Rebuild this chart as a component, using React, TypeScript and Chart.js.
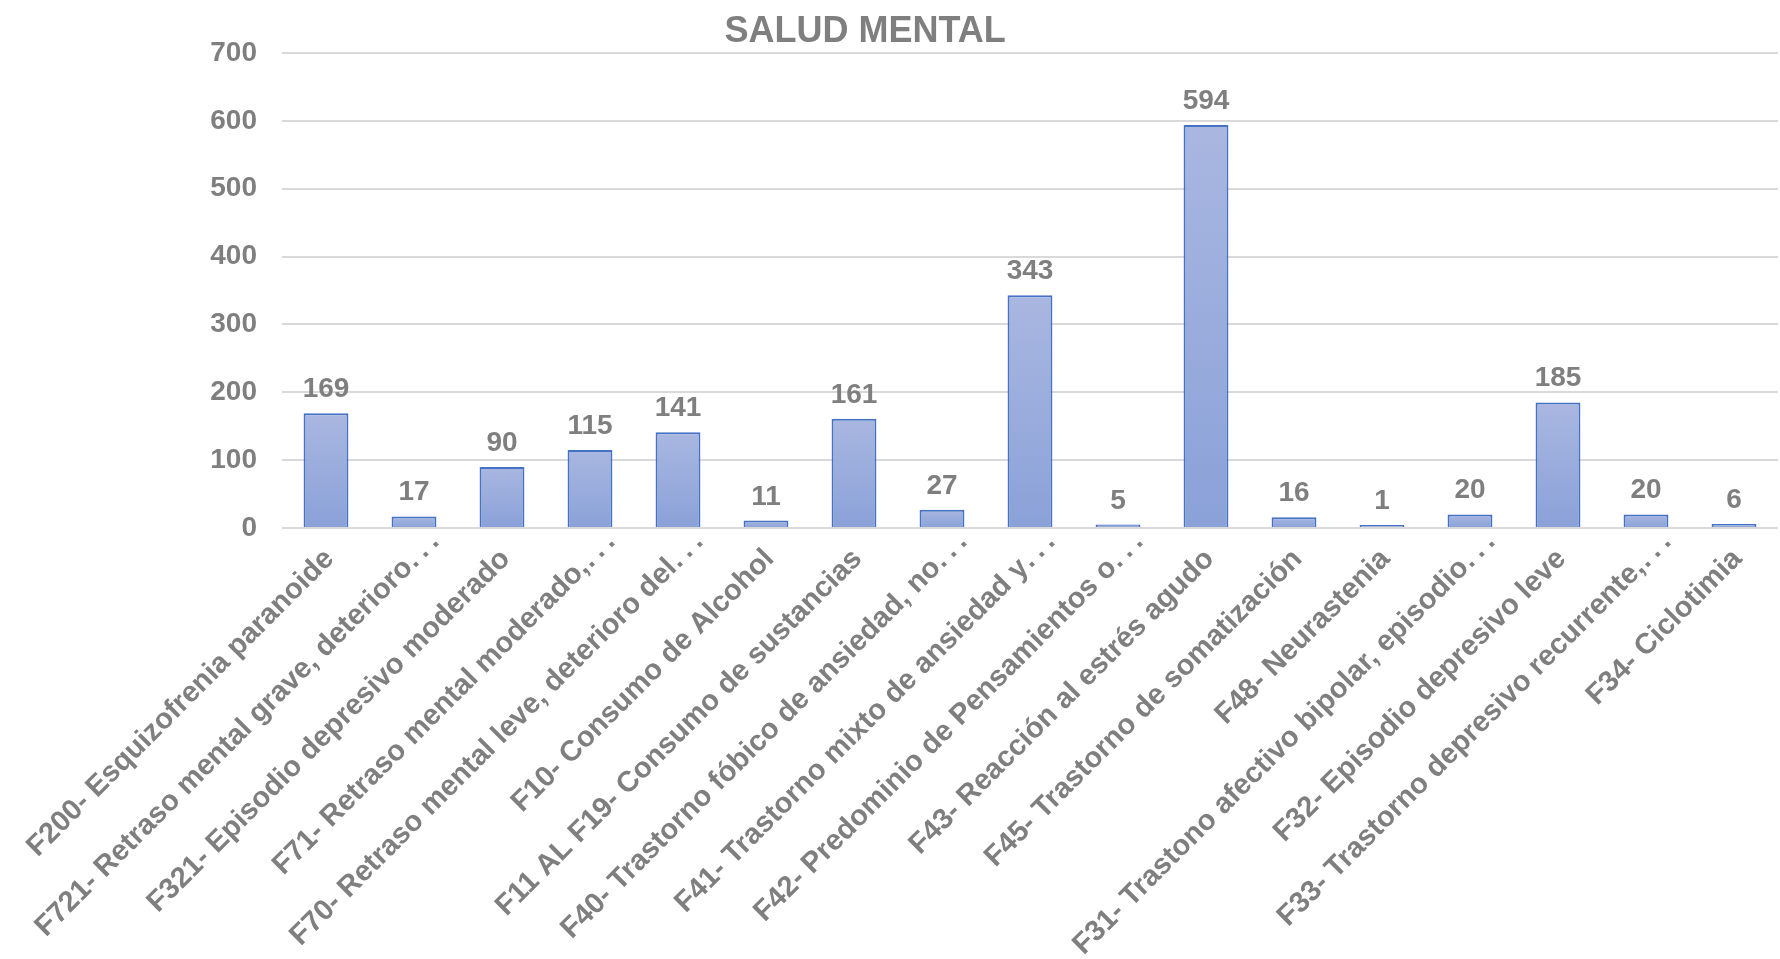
import React, { useEffect, useRef } from "react";
import { Chart, registerables } from "chart.js";

Chart.register(...registerables);

const TITLE = "SALUD MENTAL";

const categories: string[] = [
  "F200- Esquizofrenia paranoide",
  "F721- Retraso mental grave, deterioro…",
  "F321- Episodio depresivo moderado",
  "F71- Retraso mental moderado,…",
  "F70- Retraso mental leve, deterioro del…",
  "F10- Consumo de Alcohol",
  "F11 AL F19- Consumo de sustancias",
  "F40- Trastorno fóbico de ansiedad, no…",
  "F41- Trastorno mixto de ansiedad y…",
  "F42- Predominio de Pensamientos o…",
  "F43- Reacción al estrés agudo",
  "F45- Trastorno de somatización",
  "F48- Neurastenia",
  "F31- Trastono afectivo bipolar, episodio…",
  "F32- Episodio depresivo leve",
  "F33- Trastorno depresivo recurrente,…",
  "F34- Ciclotimia",
];

const values: number[] = [169, 17, 90, 115, 141, 11, 161, 27, 343, 5, 594, 16, 1, 20, 185, 20, 6];

const yTicks: number[] = [0, 100, 200, 300, 400, 500, 600, 700];

const FONT = '"Liberation Sans", Arial, sans-serif';
const GRAY = "#7f7f7f";

const titlePlugin = {
  id: "customTitle",
  afterDraw(chart: any) {
    const ctx = chart.ctx;
    ctx.save();
    ctx.font = `bold 36px ${FONT}`;
    ctx.fillStyle = GRAY;
    ctx.textAlign = "center";
    ctx.textBaseline = "middle";
    ctx.fillText(TITLE, chart.width * 0.486, 32);
    ctx.restore();
  },
};

const dataLabelPlugin = {
  id: "dataLabels",
  afterDatasetsDraw(chart: any) {
    const ctx = chart.ctx;
    const meta = chart.getDatasetMeta(0);
    ctx.save();
    ctx.font = `bold 28px ${FONT}`;
    ctx.fillStyle = GRAY;
    ctx.textAlign = "center";
    ctx.textBaseline = "alphabetic";
    meta.data.forEach((el: any, i: number) => {
      const v = chart.data.datasets[0].data[i];
      ctx.fillText(String(v), el.x, el.y - 16);
    });
    ctx.restore();
  },
};

// Rotated category labels, drawn at the x scale's tick positions.
const categoryLabelPlugin = {
  id: "categoryLabels",
  afterDraw(chart: any) {
    const xs = chart.scales.x;
    const ctx = chart.ctx;
    const labels: string[] = chart.data.labels;
    ctx.save();
    ctx.font = `bold 29px ${FONT}`;
    ctx.fillStyle = GRAY;
    ctx.textBaseline = "middle";
    labels.forEach((lab, i) => {
      const px = xs.getPixelForTick(i);
      ctx.save();
      ctx.translate(px, xs.top + 30);
      ctx.rotate(-Math.PI / 4);
      if (lab.endsWith("…")) {
        const main = lab.slice(0, -1);
        ctx.textAlign = "right";
        ctx.fillText(main, -8, 0);
        ctx.textAlign = "center";
        for (let k = 0; k < 3; k++) ctx.fillText(".", -3 + k * 14, 0);
      } else {
        ctx.textAlign = "right";
        ctx.fillText(lab, 5, 0);
      }
      ctx.restore();
    });
    ctx.restore();
  },
};

export default function App() {
  const ref = useRef<HTMLCanvasElement | null>(null);

  useEffect(() => {
    document.body.style.margin = "0";
    const canvas = ref.current;
    if (!canvas) return;
    const chart = new Chart(canvas, {
      type: "bar",
      data: {
        labels: categories,
        datasets: [
          {
            data: values,
            backgroundColor: (c: any) => {
              const ch = c.chart;
              const { chartArea, scales } = ch;
              if (!chartArea || c.type !== "data" || !scales?.y) return "#9aaedd";
              const v = c.raw as number;
              const top = scales.y.getPixelForValue(v);
              const bottom = scales.y.getPixelForValue(0);
              if (!isFinite(top) || !isFinite(bottom) || bottom - top < 1) return "#a7b5de";
              const g = ch.ctx.createLinearGradient(0, top, 0, bottom);
              g.addColorStop(0, "#a9b7e0");
              g.addColorStop(1, "#8aa1d8");
              return g;
            },
            borderColor: "#4472c4",
            borderWidth: 2,
            minBarLength: 3,
            barPercentage: 0.51,
            categoryPercentage: 1,
          },
        ],
      },
      options: {
        responsive: false,
        animation: false,
        layout: { padding: { top: 53, right: 2, bottom: 0, left: 0 } },
        plugins: {
          legend: { display: false },
          title: { display: false },
          tooltip: { enabled: false },
        },
        scales: {
          x: {
            grid: { display: false },
            border: { display: false },
            ticks: {
              display: false,
              autoSkip: false,
              maxRotation: 45,
              minRotation: 45,
            },
            afterFit: (s: any) => {
              s.height = 431;
            },
          },
          y: {
            min: 0,
            max: 700,
            afterBuildTicks: (s: any) => {
              s.ticks = yTicks.map((v) => ({ value: v }));
            },
            grid: { color: "#d9d9d9", lineWidth: 2, drawTicks: false },
            border: { display: false },
            ticks: {
              color: GRAY,
              font: { family: FONT, size: 28, weight: "bold" },
              padding: 25,
            },
            afterFit: (s: any) => {
              s.width = 282;
            },
          },
        },
      },
      plugins: [titlePlugin, dataLabelPlugin, categoryLabelPlugin],
    });
    return () => chart.destroy();
  }, []);

  return <canvas ref={ref} width={1780} height={959} style={{ display: "block" }} />;
}
